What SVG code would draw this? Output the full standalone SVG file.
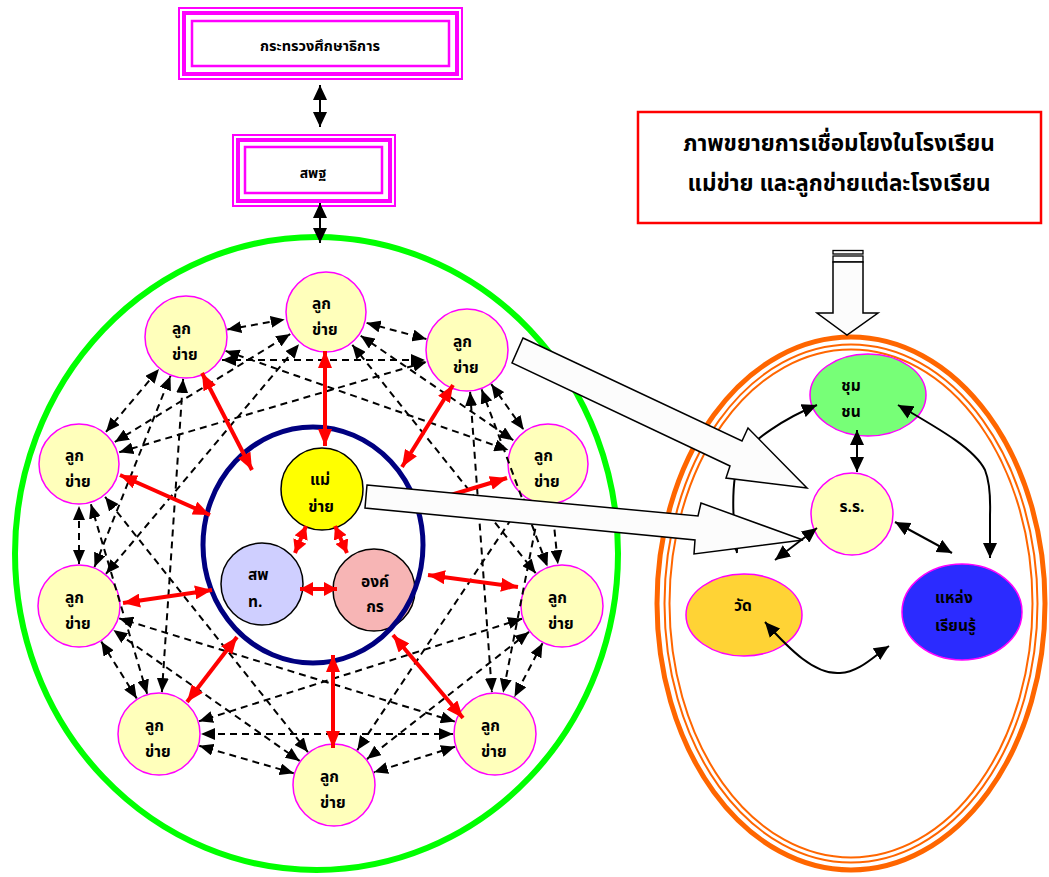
<svg xmlns="http://www.w3.org/2000/svg" width="1049" height="877" viewBox="0 0 1049 877">
<style>
.t{font-family:"Noto Sans Thai","Tahoma","Noto Sans","DejaVu Sans",sans-serif;font-weight:bold;fill:#000}
.n{font-size:15.5px}
.leaf{fill:#FFFFBB;stroke:#FF00FF;stroke-width:1.5}
.mg{fill:none;stroke:#FF00FF}
.ds{fill:none;stroke:#000;stroke-width:2;stroke-dasharray:7 5;marker-start:url(#ad);marker-end:url(#ad)}
.rd{fill:none;stroke:#FF0000;stroke-width:4;marker-start:url(#ar);marker-end:url(#ar)}
.rs{fill:none;stroke:#FF0000;stroke-width:4;marker-start:url(#as);marker-end:url(#as)}
.bk{fill:none;stroke:#000;stroke-width:2;marker-start:url(#ab);marker-end:url(#ab)}
.blk{fill:#FCFCFC;stroke:#000;stroke-width:1.5;stroke-linejoin:miter}
.or{fill:none;stroke:#FF6600}
</style>
<defs>
<marker id="ad" viewBox="0 0 14 12" refX="14" refY="6" markerWidth="14" markerHeight="12" markerUnits="userSpaceOnUse" orient="auto-start-reverse"><path d="M0,0L14,6L0,12z" fill="#000"/></marker>
<marker id="ar" viewBox="0 0 17 14" refX="17" refY="7" markerWidth="17" markerHeight="14" markerUnits="userSpaceOnUse" orient="auto-start-reverse"><path d="M0,0L17,7L0,14z" fill="#FF0000"/></marker>
<marker id="as" viewBox="0 0 13 14" refX="13" refY="7" markerWidth="13" markerHeight="14" markerUnits="userSpaceOnUse" orient="auto-start-reverse"><path d="M0,0L13,7L0,14z" fill="#FF0000"/></marker>
<marker id="ab" viewBox="0 0 15 14" refX="15" refY="7" markerWidth="15" markerHeight="14" markerUnits="userSpaceOnUse" orient="auto-start-reverse"><path d="M0,0L15,7L0,14z" fill="#000"/></marker>
</defs>
<rect width="1049" height="877" fill="#FFFFFF"/>

<g id="big-circle"><ellipse cx="316.5" cy="553.5" rx="301.5" ry="316.5" fill="none" stroke="#00FF00" stroke-width="6"/></g>

<g id="zoom-circle">
<ellipse class="or" cx="851" cy="603.5" rx="194" ry="266.5" stroke-width="5"/>
<ellipse class="or" cx="851" cy="603.5" rx="186.5" ry="259" stroke-width="2"/>
<ellipse class="or" cx="851" cy="603.5" rx="181.5" ry="254" stroke-width="2"/>
</g>

<g id="moe">
<rect class="mg" x="179" y="8" width="283" height="71" stroke-width="2"/>
<rect class="mg" x="184" y="13" width="273" height="61" stroke-width="4"/>
<rect x="192" y="21" width="257" height="45" fill="#fff" stroke="#FF00FF" stroke-width="2.5"/>
<text class="t" x="320" y="51" font-size="14.5" text-anchor="middle">กระทรวงศึกษาธิการ</text>
</g>

<g id="obec">
<rect class="mg" x="233" y="135" width="162" height="71" stroke-width="2"/>
<rect class="mg" x="238" y="140" width="152" height="61" stroke-width="4"/>
<rect x="245" y="147" width="137" height="46" fill="#fff" stroke="#FF00FF" stroke-width="2.5"/>
<text class="t" x="313" y="178" font-size="14" text-anchor="middle">สพฐ</text>
</g>

<g id="title">
<rect x="638" y="112" width="403" height="111" fill="#fff" stroke="#FF0000" stroke-width="2.5"/>
<text class="t" x="839" y="151" font-size="22.5" text-anchor="middle">ภาพขยายการเชื่อมโยงในโรงเรียน</text>
<text class="t" x="839" y="191" font-size="22.5" text-anchor="middle">แม่ข่าย และลูกข่ายแต่ละโรงเรียน</text>
</g>

<g id="down-arrow">
<rect x="833" y="250.5" width="30" height="3.5" fill="#fff" stroke="#000" stroke-width="1.3"/>
<rect x="833" y="256" width="30" height="6" fill="#fff" stroke="#000" stroke-width="1.3"/>
<polygon class="blk" points="833,262 863,262 863,313 878,313 847,335 817,313 833,313"/>
</g>

<g id="n1"><circle class="leaf" cx="326" cy="312" r="40"/><text class="t n" x="312" y="309">ลูก</text><text class="t n" x="312" y="335">ข่าย</text></g>
<g id="n2"><circle class="leaf" cx="186" cy="337" r="41"/><text class="t n" x="172" y="334">ลูก</text><text class="t n" x="172" y="360">ข่าย</text></g>
<g id="n3"><circle class="leaf" cx="467" cy="350" r="41"/><text class="t n" x="453" y="347">ลูก</text><text class="t n" x="453" y="373">ข่าย</text></g>
<g id="n4"><circle class="leaf" cx="79" cy="464" r="40"/><text class="t n" x="65" y="461">ลูก</text><text class="t n" x="65" y="487">ข่าย</text></g>
<g id="n5"><circle class="leaf" cx="548" cy="464" r="40"/><text class="t n" x="534" y="461">ลูก</text><text class="t n" x="534" y="487">ข่าย</text></g>
<g id="n6"><circle class="leaf" cx="79" cy="606" r="41"/><text class="t n" x="65" y="603">ลูก</text><text class="t n" x="65" y="629">ข่าย</text></g>
<g id="n7"><circle class="leaf" cx="562" cy="606" r="41"/><text class="t n" x="548" y="603">ลูก</text><text class="t n" x="548" y="629">ข่าย</text></g>
<g id="n8"><circle class="leaf" cx="159" cy="734" r="41"/><text class="t n" x="145" y="731">ลูก</text><text class="t n" x="145" y="757">ข่าย</text></g>
<g id="n9"><circle class="leaf" cx="495" cy="734" r="41"/><text class="t n" x="481" y="731">ลูก</text><text class="t n" x="481" y="757">ข่าย</text></g>
<g id="n10"><circle class="leaf" cx="334" cy="785" r="41"/><text class="t n" x="320" y="782">ลูก</text><text class="t n" x="320" y="808">ข่าย</text></g>

<g id="hub"><circle cx="322" cy="489" r="41" fill="#FFFF00" stroke="#000" stroke-width="1.5"/><text class="t n" x="320" y="485" text-anchor="middle">แม่</text><text class="t n" x="321" y="512" text-anchor="middle">ข่าย</text></g>
<g id="esa"><circle cx="262" cy="584" r="41" fill="#CFCFFF" stroke="#000" stroke-width="1.5"/><text class="t n" x="248" y="580">สพ</text><text class="t n" x="248" y="607">ท.</text></g>
<g id="org"><circle cx="374" cy="590" r="41" fill="#F7B5B5" stroke="#000" stroke-width="1.5"/><text class="t n" x="375" y="587" text-anchor="middle">องค์</text><text class="t n" x="375" y="612" text-anchor="middle">กร</text></g>
<g id="hub-ring"><ellipse cx="313" cy="545" rx="110" ry="118" fill="none" stroke="#000080" stroke-width="5"/></g>

<g id="community"><ellipse cx="868" cy="395" rx="58" ry="41" fill="#77FF77" stroke="#FF00FF" stroke-width="1.5"/><text class="t n" x="851" y="391" text-anchor="middle">ชุม</text><text class="t n" x="851" y="417" text-anchor="middle">ชน</text></g>
<g id="school"><circle cx="852" cy="514" r="41" fill="#FFFFBB" stroke="#FF00FF" stroke-width="1.5"/><text class="t n" x="852" y="512" text-anchor="middle">ร.ร.</text></g>
<g id="temple"><ellipse cx="744" cy="615" rx="58" ry="41" fill="#FFD335" stroke="#FF00FF" stroke-width="1.5"/><text class="t n" x="743" y="611" text-anchor="middle">วัด</text></g>
<g id="learning"><ellipse cx="962" cy="612" rx="60" ry="48" fill="#2B2BFF" stroke="#FF00FF" stroke-width="1.5"/><text class="t n" x="935" y="603">แหล่ง</text><text class="t n" x="935" y="631">เรียนรู้</text></g>

<g id="connectors">
<line class="bk" x1="320" y1="85" x2="320" y2="127"/>
<line class="bk" x1="320" y1="203" x2="320" y2="243"/>

<line class="ds" x1="366.6" y1="322.9" x2="426.4" y2="339.1"/>
<line class="ds" x1="491.3" y1="384.2" x2="523.7" y2="429.8"/>
<line class="ds" x1="552.1" y1="505.8" x2="557.9" y2="564.2"/>
<line class="ds" x1="542.5" y1="643.2" x2="514.5" y2="696.8"/>
<line class="ds" x1="455" y1="746.7" x2="374" y2="772.3"/>
<line class="ds" x1="293.7" y1="773.2" x2="199.3" y2="745.8"/>
<line class="ds" x1="136.7" y1="698.4" x2="101.3" y2="641.6"/>
<line class="ds" x1="79" y1="564" x2="79" y2="506"/>
<line class="ds" x1="106" y1="431.9" x2="159" y2="369.1"/>
<line class="ds" x1="227.3" y1="329.6" x2="284.7" y2="319.4"/>

<line class="ds" x1="360.7" y1="335.7" x2="513.3" y2="440.3"/>
<line class="ds" x1="481.6" y1="389.4" x2="547.4" y2="566.6"/>
<line class="ds" x1="539.9" y1="505.2" x2="503.1" y2="692.8"/>
<line class="ds" x1="529" y1="631.9" x2="367" y2="759.1"/>
<line class="ds" x1="453" y1="734" x2="201" y2="734"/>
<line class="ds" x1="299.6" y1="760.9" x2="113.4" y2="630.1"/>
<line class="ds" x1="147.1" y1="693.7" x2="90.9" y2="504.3"/>
<line class="ds" x1="94.5" y1="567" x2="170.5" y2="376"/>
<line class="ds" x1="114.8" y1="442" x2="290.2" y2="334"/>
<line class="ds" x1="222" y1="360" x2="425" y2="360"/>

<line class="ds" x1="352.3" y1="344.8" x2="535.7" y2="573.2"/>
<line class="ds" x1="470.1" y1="391.9" x2="491.9" y2="692.1"/>
<line class="ds" x1="524.7" y1="498.9" x2="357.3" y2="750.1"/>
<line class="ds" x1="522" y1="618.7" x2="199" y2="721.3"/>
<line class="ds" x1="454.8" y1="721.6" x2="119.2" y2="618.4"/>
<line class="ds" x1="307.9" y1="752.1" x2="105.1" y2="496.9"/>
<line class="ds" x1="161.9" y1="692.1" x2="183.1" y2="378.9"/>
<line class="ds" x1="106" y1="573.8" x2="299" y2="344.2"/>
<line class="ds" x1="119.3" y1="452.2" x2="426.7" y2="361.8"/>
<line class="ds" x1="225.6" y1="350.9" x2="508.4" y2="450.1"/>

<line class="rd" x1="325" y1="351" x2="325" y2="446"/>
<line class="rd" x1="202" y1="373" x2="252" y2="470"/>
<line class="rd" x1="453" y1="385" x2="402" y2="467"/>
<line class="rd" x1="120" y1="475" x2="210" y2="515"/>
<line class="rd" x1="421" y1="504" x2="507" y2="478"/>
<line class="rd" x1="123" y1="603" x2="212" y2="590"/>
<line class="rd" x1="428" y1="575" x2="518" y2="587"/>
<line class="rd" x1="237" y1="637" x2="187" y2="702"/>
<line class="rd" x1="393" y1="635" x2="463" y2="718"/>
<line class="rd" x1="333" y1="655" x2="333" y2="748"/>

<line class="rs" x1="306" y1="526" x2="295" y2="553"/>
<line class="rs" x1="335" y1="526" x2="347" y2="553"/>
<line class="rs" x1="300" y1="589" x2="337" y2="589"/>

<line class="bk" x1="857" y1="430" x2="857" y2="472"/>
<line class="bk" x1="817" y1="528" x2="775" y2="560"/>
<line class="bk" x1="895" y1="522" x2="952" y2="553"/>
<path class="bk" d="M898,405 C945,432 975,450 985,470 Q991,485 990,515 L990,558"/>
<path class="bk" d="M765,622 C790,650 815,675 840,673 C860,672 875,655 889,646"/>
<path class="bk" d="M737,553 C733,525 730,480 740,458 C752,440 785,418 817,405"/>
</g>

<g id="zoom-arrows">
<polygon class="blk" points="523,338 742,441 748,428 807,488 726,478 730,466 512,363"/>
<polygon class="blk" points="367,485 698,516 701,503 803,540 694,554 695,540 365,508"/>
</g>
</svg>
